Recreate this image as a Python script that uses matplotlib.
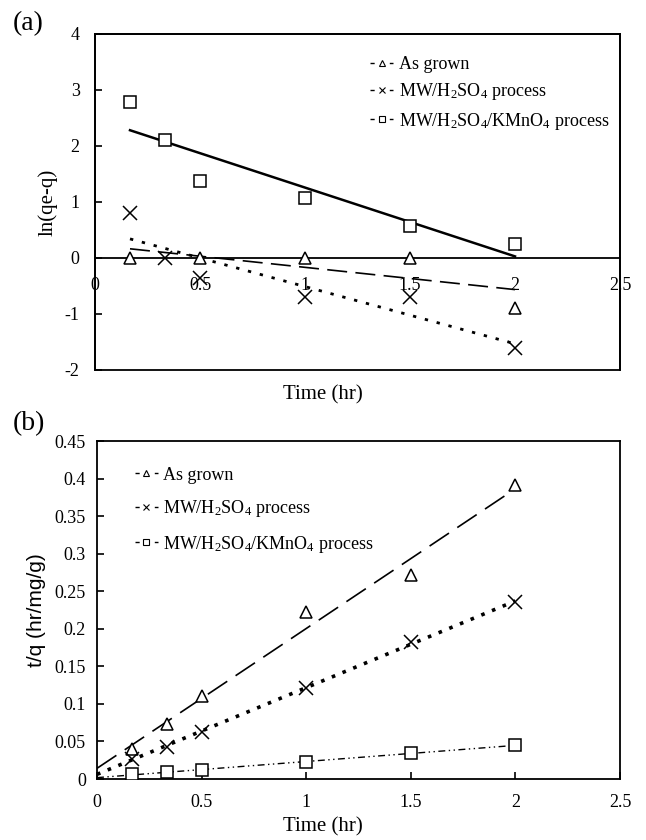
import numpy as np
import matplotlib
matplotlib.use("Agg")
import matplotlib.pyplot as plt
from matplotlib.lines import Line2D
from matplotlib.patches import Rectangle

plt.rcParams['font.family'] = ['Liberation Serif', 'DejaVu Serif']
plt.rcParams['mathtext.fontset'] = 'custom'
plt.rcParams['mathtext.rm'] = 'Liberation Serif'
plt.rcParams['mathtext.it'] = 'Liberation Serif:italic'
plt.rcParams['axes.unicode_minus'] = False

# ---------------- data ----------------
labels = ["As grown", "MW/H$_2$SO$_4$ process", "MW/H$_2$SO$_4$/KMnO$_4$ process"]

# panel (a): pseudo-first-order, ln(qe-q) vs time
a_x_grown = [1/6, 0.5, 1.0, 1.5, 2.0]
a_y_grown = [0.0, 0.0, 0.0, 0.0, -0.9]
a_x_h2so4 = [1/6, 1/3, 0.5, 1.0, 1.5, 2.0]
a_y_h2so4 = [0.8, 0.0, -0.35, -0.7, -0.7, -1.6]
a_x_kmno4 = [1/6, 1/3, 0.5, 1.0, 1.5, 2.0]
a_y_kmno4 = [2.78, 2.1, 1.38, 1.08, 0.57, 0.25]

# panel (b): pseudo-second-order, t/q vs time
b_x = [1/6, 1/3, 0.5, 1.0, 1.5, 2.0]
b_y_grown = [0.040, 0.073, 0.110, 0.222, 0.272, 0.392]
b_y_h2so4 = [0.027, 0.043, 0.063, 0.121, 0.183, 0.235]
b_y_kmno4 = [0.006, 0.009, 0.012, 0.023, 0.034, 0.045]

a_xticks = [0, 0.5, 1, 1.5, 2, 2.5]
a_xticklabels = ["0", "0.5", "1", "1.5", "2", "2.5"]
a_yticks = [-2, -1, 0, 1, 2, 3, 4]
b_xticks = [0, 0.5, 1, 1.5, 2, 2.5]
b_xticklabels = ["0", "0.5", "1", "1.5", "2", "2.5"]
b_yticks = [0, 0.05, 0.1, 0.15, 0.2, 0.25, 0.3, 0.35, 0.4, 0.45]
b_yticklabels = ["0", "0.05", "0.1", "0.15", "0.2", "0.25", "0.3", "0.35", "0.4", "0.45"]

# ---------------- styles ----------------
markers = ['^', 'x', 's']
msize = 8.5
tick_fs = 13
label_fs = 15
leg_fs = 13

ls_a = [(0, (12, 5)), (0, (1.2, 3.2)), '-']
lw_a = [1.2, 2.0, 1.8]
ls_b = [(0, (14, 6)), (0, (1.0, 2.2)), (0, (5, 2.5, 1, 2.5, 1, 2.5))]
lw_b = [1.2, 2.6, 1.0]

fig = plt.figure(figsize=(6.46, 8.4), dpi=100)

# ---------------- panel (a) ----------------
ax1 = fig.add_axes([95/646, 1-370/840, 525/646, 336/840])
series_a = [(a_x_grown, a_y_grown), (a_x_h2so4, a_y_h2so4), (a_x_kmno4, a_y_kmno4)]
for i, (xs, ys) in enumerate(series_a):
    xs = np.array(xs); ys = np.array(ys)
    if markers[i] == 'x':
        ax1.plot(xs, ys, linestyle='none', marker='x', ms=msize+1, mec='black', mew=1.1, zorder=4)
    else:
        ax1.plot(xs, ys, linestyle='none', marker=markers[i], ms=msize, mfc='white', mec='black', mew=1.1, zorder=4)
    p = np.polyfit(xs, ys, 1)
    fx = np.array([xs.min(), xs.max()])
    ax1.plot(fx, np.polyval(p, fx), color='black', linestyle=ls_a[i], lw=lw_a[i],
             dash_capstyle='butt', zorder=3)

ax1.set_xlim(0, 2.5)
ax1.set_ylim(-2, 4)
ax1.spines['bottom'].set_position(('data', 0))
ax1.spines['bottom'].set_linewidth(1.3)
for s in ['top', 'right', 'left']:
    ax1.spines[s].set_linewidth(1.3)
ax1.add_patch(Rectangle((0, 0), 1, 1, transform=ax1.transAxes, fill=False,
                        edgecolor='black', lw=1.3, zorder=5, clip_on=False))
ax1.set_xticks(a_xticks)
ax1.set_xticklabels(a_xticklabels)
ax1.set_yticks(a_yticks)
ax1.tick_params(axis='x', direction='in', length=0, pad=14, labelsize=tick_fs)
ax1.tick_params(axis='y', direction='in', length=5, width=1.2, pad=11, labelsize=tick_fs)
ax1.set_ylabel("ln(qe-q)", fontsize=label_fs, labelpad=5)
fig.text(0.5, 1-395/840, "Time (hr)", ha='center', va='center', fontsize=label_fs)
fig.text(13/646, 1-24/840, "(a)", fontsize=20, ha='left', va='center')

HL = 1.3
def legend_handles():
    L = HL * leg_fs
    pat = (0, (3, L - 6))
    hs = []
    for m in markers:
        if m == 'x':
            hs.append(Line2D([0], [0], color='black', lw=1.0, linestyle=pat,
                             marker='x', ms=4.5, mec='black', mew=0.8))
        else:
            hs.append(Line2D([0], [0], color='black', lw=1.0, linestyle=pat,
                             marker=m, ms=4.5, mfc='white', mec='black', mew=0.8))
    return hs

leg1 = ax1.legend(legend_handles(), labels, loc='upper left', bbox_to_anchor=(0.51, 0.955),
                  frameon=False, fontsize=leg_fs, handlelength=HL, handletextpad=0.3,
                  labelspacing=0.45, borderaxespad=0)

# ---------------- panel (b) ----------------
ax2 = fig.add_axes([97/646, 1-779/840, 523/646, 338/840])
series_b = [b_y_grown, b_y_h2so4, b_y_kmno4]
for i, ys in enumerate(series_b):
    xs = np.array(b_x); ys = np.array(ys)
    if markers[i] == 'x':
        ax2.plot(xs, ys, linestyle='none', marker='x', ms=msize+1, mec='black', mew=1.1, zorder=4)
    else:
        ax2.plot(xs, ys, linestyle='none', marker=markers[i], ms=msize, mfc='white', mec='black', mew=1.1, zorder=4)
    p = np.polyfit(xs, ys, 1)
    fx = np.array([0.0, xs.max()])
    ax2.plot(fx, np.polyval(p, fx), color='black', linestyle=ls_b[i], lw=lw_b[i],
             dash_capstyle='butt', zorder=3)

ax2.set_xlim(0, 2.5)
ax2.set_ylim(0, 0.45)
for s in ax2.spines.values():
    s.set_linewidth(1.3)
ax2.set_xticks(b_xticks)
ax2.set_xticklabels(b_xticklabels)
ax2.set_yticks(b_yticks)
ax2.set_yticklabels(b_yticklabels)
ax2.tick_params(axis='x', direction='in', length=5, width=1.2, pad=11, labelsize=tick_fs)
ax2.tick_params(axis='y', direction='in', length=5, width=1.2, pad=8, labelsize=tick_fs)
ax2.set_ylabel("t/q (hr/mg/g)", fontsize=label_fs, family=['Liberation Sans', 'DejaVu Sans'], labelpad=6)
fig.text(0.5, 1-827/840, "Time (hr)", ha='center', va='center', fontsize=label_fs)
fig.text(13/646, 1-424/840, "(b)", fontsize=20, ha='left', va='center')

leg2 = ax2.legend(legend_handles(), labels, loc='upper left', bbox_to_anchor=(0.058, 0.945),
                  frameon=False, fontsize=leg_fs, handlelength=HL, handletextpad=0.3,
                  labelspacing=0.8, borderaxespad=0)

fig.savefig("out.png", dpi=100)
